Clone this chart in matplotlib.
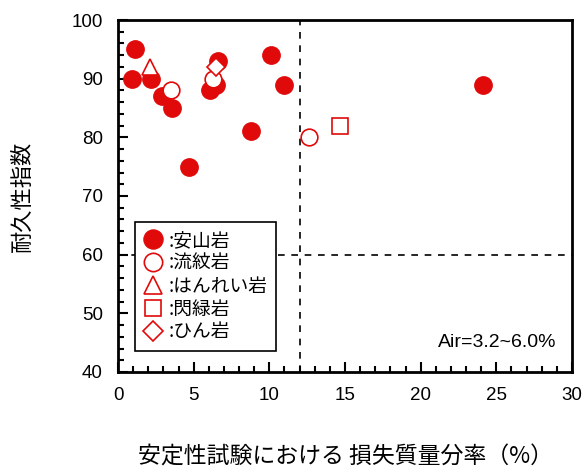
import matplotlib
matplotlib.use('Agg')
import matplotlib.pyplot as plt
from matplotlib.ticker import MultipleLocator

plt.rcParams['font.family'] = ['Liberation Sans', 'Noto Sans CJK JP', 'DejaVu Sans']

# data
andesite_x = [1.1, 0.9, 2.2, 2.9, 3.6, 4.7, 6.1, 6.5, 6.6, 10.1, 11.0, 8.8, 24.1]
andesite_y = [95, 90, 90, 87, 85, 75, 88, 89, 93, 94, 89, 81, 89]
rhyolite_x = [3.5, 6.3, 12.6]
rhyolite_y = [88, 90, 80]
hornfels_x = [2.1]
hornfels_y = [92]
diorite_x = [14.7]
diorite_y = [82]
porphyrite_x = [6.5]
porphyrite_y = [92]

red = '#e00a0a'
jp = ['Noto Sans CJK JP', 'DejaVu Sans']

fig = plt.figure(figsize=(5.88, 4.74), dpi=100)
ax = fig.add_axes([0.2007, 0.2152, 0.7721, 0.7426])

ax.axvline(12, color='black', ls=(0, (4, 4)), lw=1.2, zorder=1)
ax.axhline(60, color='black', ls=(0, (4, 4)), lw=1.2, zorder=1)

ax.plot(andesite_x, andesite_y, 'o', ms=12.5, color=red, mec=red, label=':安山岩', zorder=3)
ax.plot(rhyolite_x, rhyolite_y, 'o', ms=12, mfc='white', mec=red, mew=1.2, label=':流紋岩', zorder=4)
ax.plot(hornfels_x, hornfels_y, '^', ms=12, mfc='white', mec=red, mew=1.2, label=':はんれい岩', zorder=4)
ax.plot(diorite_x, diorite_y, 's', ms=11, mfc='white', mec=red, mew=1.2, label=':閃緑岩', zorder=4)
ax.plot(porphyrite_x, porphyrite_y, 'D', ms=9, mfc='white', mec=red, mew=1.2, label=':ひん岩', zorder=4)

ax.set_xlim(0, 30)
ax.set_ylim(40, 100)
ax.xaxis.set_major_locator(MultipleLocator(5))
ax.xaxis.set_minor_locator(MultipleLocator(1))
ax.yaxis.set_major_locator(MultipleLocator(10))
ax.yaxis.set_minor_locator(MultipleLocator(2))
ax.tick_params(which='both', direction='in', width=1.5, labelsize=13.5)
ax.tick_params(which='major', length=7)
ax.tick_params(axis='y', which='major', pad=11)
ax.tick_params(axis='x', which='major', pad=11)
ax.tick_params(which='minor', length=4)
for s in ax.spines.values():
    s.set_linewidth(2)

ax.set_xlabel('安定性試験における 損失質量分率（%）', fontsize=16.5, family=jp)
ax.xaxis.set_label_coords(0.5, -0.21)
ax.set_ylabel('耐久性指数', fontsize=16, family=jp)
ax.yaxis.set_label_coords(-0.185, 0.5)

ax.text(29.0, 44.3, 'Air=3.2~6.0%', fontsize=14, ha='right', va='baseline')

leg = ax.legend(loc='lower left', bbox_to_anchor=(0.037, 0.06), borderaxespad=0,
                handletextpad=0.35, handlelength=1.0, labelspacing=0.1,
                borderpad=0.45, fancybox=False, framealpha=1, edgecolor='black',
                markerscale=1.1, prop={'family': jp, 'size': 13.5})
leg.get_frame().set_linewidth(1.2)
leg.set_zorder(5)

fig.savefig('out.png', dpi=100)
